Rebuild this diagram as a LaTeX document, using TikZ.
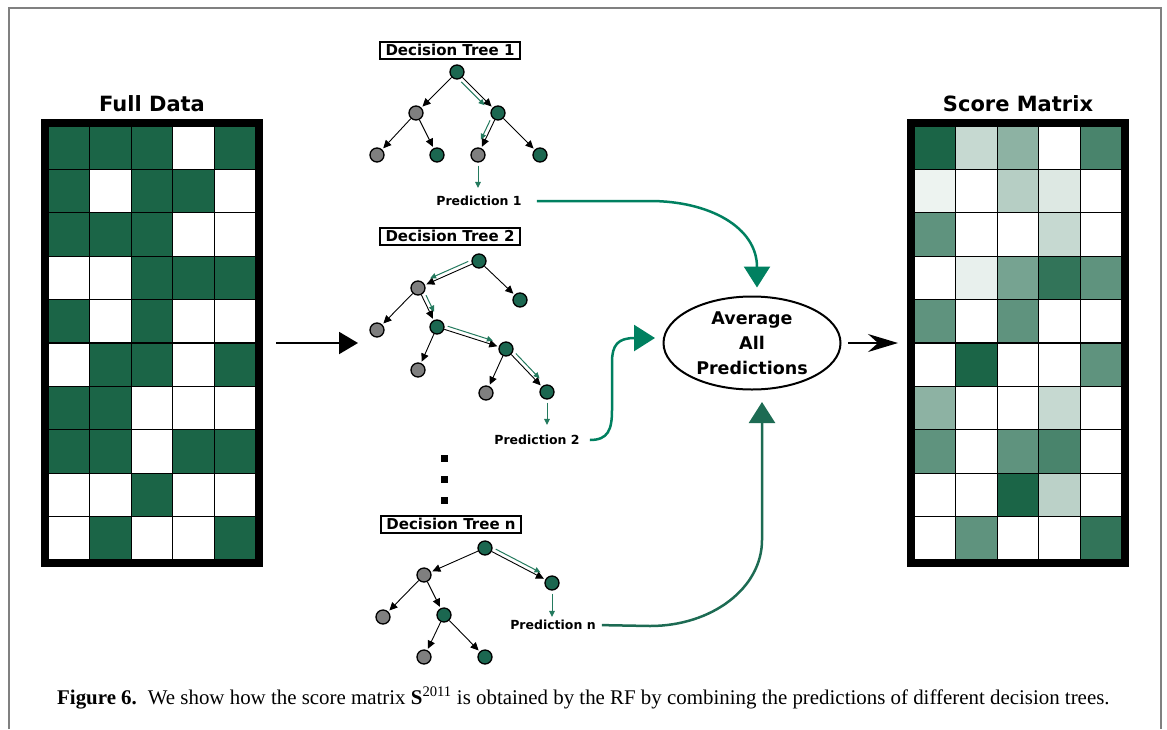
\documentclass[tikz,border=0pt]{standalone}
\usepackage{fontspec}
\setmainfont{Liberation Serif}
\newfontfamily\diagfont{DejaVu Sans}
\usetikzlibrary{arrows.meta,calc,shapes.geometric}

\definecolor{datagreen}{RGB}{27,101,71}
\definecolor{nodegreen}{RGB}{27,103,80}
\definecolor{nodegray}{RGB}{127,127,127}
\definecolor{routegreen}{RGB}{36,122,94}
\definecolor{predgreen}{RGB}{0,128,96}
\definecolor{lastgreen}{RGB}{29,107,83}
\definecolor{framegray}{RGB}{128,128,128}

\begin{document}
\begin{tikzpicture}[x=1pt,y=-1pt,
  tnode/.style={circle,draw=black,line width=1.3,minimum size=14,inner sep=0},
  gnode/.style={tnode,fill=nodegreen},
  hnode/.style={tnode,fill=nodegray},
  branch/.style={-{Triangle[length=8pt,width=7.5pt]},line width=0.9,shorten >=1.5},
  route/.style={routegreen,-{Triangle[length=6pt,width=5.5pt]},line width=1,shorten <=10,shorten >=15},
  drop/.style={routegreen,-{Triangle[length=6pt,width=5.5pt]},line width=1,shorten <=3},
  treetitle/.style={draw,line width=2,minimum width=140,minimum height=17,inner sep=1,font=\diagfont\bfseries\fontsize{15}{17}\selectfont},
  predlabel/.style={inner sep=0,font=\diagfont\bfseries\fontsize{12.5}{14}\selectfont},
  datamatrix/.style={draw,line width=7,minimum width=215,minimum height=441,inner sep=0,outer sep=0},
  heading/.style={font=\diagfont\bfseries\fontsize{21}{24}\selectfont},
  bigarrow/.style={-{Triangle[length=19pt,width=22pt]},line width=2},
  predarrow/.style={-{Triangle[length=21pt,width=26pt]},line width=2.5},
  cellbox/.style={draw=black,line width=1.2}
]

% 页面范围与外框
\useasboundingbox (0,0) rectangle (1167,729);
\draw[framegray,line width=2] (9,729) -- (9,8) -- (1161,8) -- (1161,729);

% 左侧数据矩阵
\node[datamatrix] (fulldata) at (152,343) {};
\node[heading] (fulltitle) at (152,104) {Full Data};
\begin{scope}[shift={(48,126)}]
\foreach \row [count=\r from 0] in {
  {100,100,100,0,100},{100,0,100,100,0},{100,100,100,0,0},{0,0,100,100,100},{100,0,100,0,0},
  {0,100,100,0,100},{100,100,0,0,0},{100,100,0,100,100},{0,0,100,0,0},{0,100,0,0,100}}
  \foreach \v [count=\c from 0] in \row
    \filldraw[cellbox,fill=datagreen!\v!white] (\c*41.6,\r*43.4) rectangle ++(41.6,43.4);
\end{scope}

% 右侧得分矩阵
\node[datamatrix] (score) at (1018,343) {};
\node[heading] (scoretitle) at (1018,104) {Score Matrix};
\begin{scope}[shift={(914,126)}]
\foreach \row [count=\r from 0] in {
  {100,25,50,0,80},{8,0,32,15,0},{70,0,0,25,0},{0,10,60,90,70},{70,0,70,0,0},
  {0,100,0,0,70},{50,0,0,25,0},{70,0,70,80,0},{0,0,100,30,0},{0,70,0,0,90}}
  \foreach \v [count=\c from 0] in \row
    \filldraw[cellbox,fill=datagreen!\v!white] (\c*41.6,\r*43.4) rectangle ++(41.6,43.4);
\end{scope}

% 决策树 1
\node[treetitle] (tree1) at (450,50) {Decision Tree 1};
\node[gnode] (t1root) at (457,72) {};
\node[hnode] (t1l) at (416,113) {};
\node[gnode] (t1r) at (498,113) {};
\node[hnode] (t1ll) at (377,155) {};
\node[gnode] (t1lr) at (437,155) {};
\node[hnode] (t1rl) at (478,155) {};
\node[gnode] (t1rr) at (540,155) {};
\draw[branch] (t1root) -- (t1l);
\draw[branch] (t1root) -- (t1r);
\draw[branch] (t1l) -- (t1ll);
\draw[branch] (t1l) -- (t1lr);
\draw[branch] (t1r) -- (t1rl);
\draw[branch] (t1r) -- (t1rr);
\draw[route] ($(t1root)!4pt!-90:(t1r)$) -- ($(t1r)!4pt!90:(t1root)$);
\draw[route] ($(t1r)!4pt!-90:(t1rl)$) -- ($(t1rl)!4pt!90:(t1r)$);
\node[predlabel] (pred1) at (479,201) {Prediction 1};
\draw[drop,shorten >=8] (t1rl) -- (t1rl |- pred1.north);

% 决策树 2
\node[treetitle] (tree2) at (450,236) {Decision Tree 2};
\node[gnode] (t2root) at (479,261) {};
\node[hnode] (t2l) at (418,288) {};
\node[gnode] (t2r) at (520,300) {};
\node[hnode] (t2ll) at (377,330) {};
\node[gnode] (t2lr) at (437,327) {};
\node[hnode] (t2lrl) at (418,370) {};
\node[gnode] (t2lrr) at (506,349) {};
\node[hnode] (t2lrrl) at (486,393) {};
\node[gnode] (t2lrrr) at (547,392) {};
\draw[branch] (t2root) -- (t2l);
\draw[branch] (t2root) -- (t2r);
\draw[branch] (t2l) -- (t2ll);
\draw[branch] (t2l) -- (t2lr);
\draw[branch] (t2lr) -- (t2lrl);
\draw[branch] (t2lr) -- (t2lrr);
\draw[branch] (t2lrr) -- (t2lrrl);
\draw[branch] (t2lrr) -- (t2lrrr);
\draw[route] ($(t2root)!4pt!-90:(t2l)$) -- ($(t2l)!4pt!90:(t2root)$);
\draw[route] ($(t2l)!4pt!90:(t2lr)$) -- ($(t2lr)!4pt!-90:(t2l)$);
\draw[route] ($(t2lr)!4pt!90:(t2lrr)$) -- ($(t2lrr)!4pt!-90:(t2lr)$);
\draw[route] ($(t2lrr)!4pt!90:(t2lrrr)$) -- ($(t2lrrr)!4pt!-90:(t2lrr)$);
\node[predlabel] (pred2) at (537,440) {Prediction 2};
\draw[drop,shorten >=10] (t2lrrr) -- (t2lrrr |- pred2.north);

% 省略号
\foreach \y in {458,479,500}
  \fill (440.5,\y-3.5) rectangle ++(7,7);

% 决策树 n
\node[treetitle] (treen) at (451,524) {Decision Tree n};
\node[gnode] (tnroot) at (485,548) {};
\node[hnode] (tnl) at (424,575) {};
\node[gnode] (tnr) at (552,583) {};
\node[hnode] (tnll) at (383,617) {};
\node[gnode] (tnlr) at (444,615) {};
\node[hnode] (tnlrl) at (424,657) {};
\node[gnode] (tnlrr) at (485,657) {};
\draw[branch] (tnroot) -- (tnl);
\draw[branch] (tnroot) -- (tnr);
\draw[branch] (tnl) -- (tnll);
\draw[branch] (tnl) -- (tnlr);
\draw[branch] (tnlr) -- (tnlrl);
\draw[branch] (tnlr) -- (tnlrr);
\draw[route] ($(tnroot)!4pt!90:(tnr)$) -- ($(tnr)!4pt!-90:(tnroot)$);
\node[predlabel] (predn) at (553,625) {Prediction n};
\draw[drop,shorten >=3] (tnr) -- (tnr |- predn.north);

% 平均所有预测
\node[ellipse,draw,line width=2,minimum width=177,minimum height=93,inner sep=0,align=center,
  font=\diagfont\bfseries\fontsize{17.5}{25}\selectfont] (avg) at (752,343) {Average\\All\\Predictions};

% 连接箭头
\coordinate (treein) at (358,343);
\draw[bigarrow,shorten <=16.5] (fulldata) -- (treein);
\draw[predarrow,predgreen,shorten <=15] (pred1.east) -- (650,201)
  .. controls (709,201) and (757,227) .. ([shift={(5,-8)}]avg.north);
\draw[predarrow,predgreen,shorten <=10] (pred2.east) .. controls (608,440) and (612,430) .. (612,410)
  -- (612,362) .. controls (612,345) and (618,338) .. ([shift={(-7.5,-5)}]avg.west);
\draw[predarrow,lastgreen,shorten <=6] (predn.east) -- (650,626)
  .. controls (712,626) and (762,588) .. (762,540) -- ([shift={(10,11.5)}]avg.south);
\draw[-{Stealth[length=30pt,width=18pt,inset=10pt]},line width=1.5,shorten <=6.5,shorten >=12.5] (avg) -- (score);

% 图注
\node[anchor=base west,inner sep=0,font=\fontsize{20.9}{24}\selectfont] (caption) at (57,704)
  {\textbf{Figure 6.}\hspace{11pt}We show how the score matrix \textbf{S}\textsuperscript{2011} is obtained by the RF by combining the predictions of different decision trees.};

\end{tikzpicture}
\end{document}
